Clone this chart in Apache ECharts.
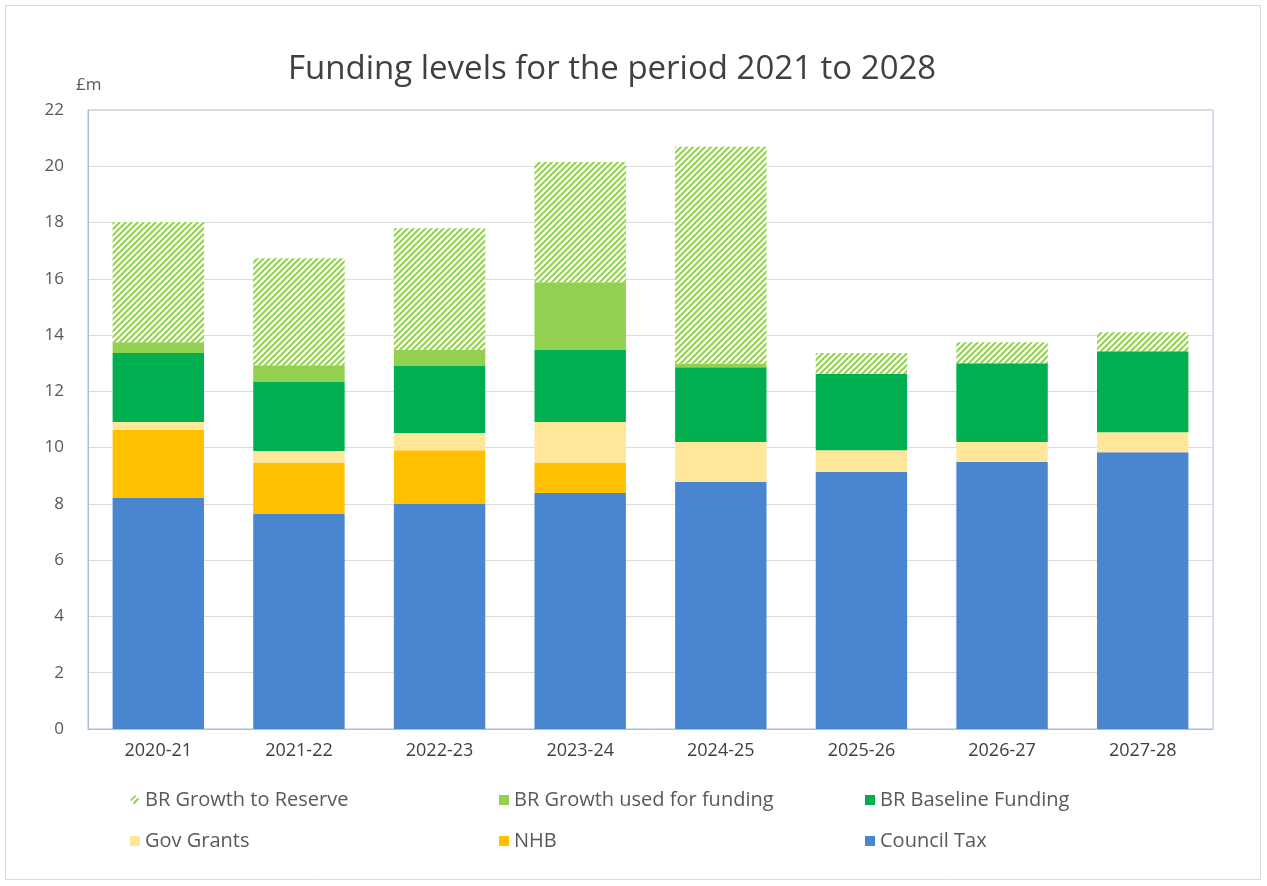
<!DOCTYPE html>
<html>
<head>
<meta charset="utf-8">
<script src="https://cdn.jsdelivr.net/npm/echarts@6/dist/echarts.min.js"></script>
<style>
html,body{margin:0;padding:0;background:#fff;}
#chart{width:1267px;height:886px;}
</style>
</head>
<body>
<div id="chart"></div>
<script>
var categories = ['2020-21','2021-22','2022-23','2023-24','2024-25','2025-26','2026-27','2027-28'];
var councilTax   = [8.21, 7.64, 8.00, 8.39, 8.78, 9.13, 9.49, 9.84];
var nhb          = [2.42, 1.81, 1.91, 1.06, 0, 0, 0, 0];
var govGrants    = [0.28, 0.43, 0.61, 1.46, 1.42, 0.78, 0.71, 0.71];
var brBaseline   = [2.45, 2.45, 2.38, 2.56, 2.66, 2.71, 2.80, 2.88];
var brGrowthUsed = [0.39, 0.60, 0.57, 2.41, 0.13, 0, 0, 0];
var brGrowthRes  = [4.27, 3.80, 4.33, 4.27, 7.70, 0.74, 0.75, 0.67];
var yTicks = [0,2,4,6,8,10,12,14,16,18,20,22];

// hatch pattern: diagonal "/" lines
var pc = document.createElement('canvas');
pc.width = 6; pc.height = 6;
var ctx = pc.getContext('2d');
ctx.fillStyle = '#ffffff';
ctx.fillRect(0,0,6,6);
ctx.strokeStyle = '#92D050';
ctx.lineWidth = 2;
[0,6,12].forEach(function(c){
  ctx.beginPath();
  ctx.moveTo(c+1, -1);
  ctx.lineTo(-1, c+1);
  ctx.stroke();
});
var hatch = {image: pc, repeat: 'repeat'};

var FONT = 'Open Sans';
var textColor = '#595959';

var chart = echarts.init(document.getElementById('chart'), null, {renderer:'canvas'});

function mkLegend(name, left, top, icon) {
  return {
    data: [{name: name, icon: icon || 'rect'}],
    left: left, top: top,
    itemWidth: 10, itemHeight: 10,
    textStyle: {fontFamily: FONT, fontSize: 20, color: textColor},
    selectedMode: false
  };
}

var barBase = {type:'bar', stack:'total', barWidth:'65%'};

chart.setOption({
  animation: false,
  backgroundColor: '#ffffff',
  title: {
    text: 'Funding levels for the period 2021 to 2028',
    left: 283, top: 48,
    textStyle: {fontFamily: FONT, fontSize: 33, fontWeight: 'normal', color: '#404040'}
  },
  graphic: [
    {type:'rect', shape:{x:5.5, y:5.5, width:1255, height:874}, style:{fill:'none', stroke:'#d9d9d9', lineWidth:1}},
    {type:'text', left:76, top:77, style:{text:'£m', font:'17px "Open Sans"', fill:textColor}}
  ],
  legend: [
    mkLegend('BR Growth to Reserve', 125, 785, 'diamond'),
    mkLegend('BR Growth used for funding', 494, 785),
    mkLegend('BR Baseline Funding', 860, 785),
    mkLegend('Gov Grants', 125, 826),
    mkLegend('NHB', 494, 826),
    mkLegend('Council Tax', 860, 826)
  ],
  grid: {left:88, right:54, top:110, bottom:157, show:true, borderColor:'#a9bde0', borderWidth:1},
  xAxis: {
    type:'category', data: categories,
    axisLine:{show:true, lineStyle:{color:'#a9bde0'}},
    axisTick:{show:false},
    axisLabel:{fontFamily:FONT, fontSize:18, color:'#404040', margin:13}
  },
  yAxis: {
    type:'value', min:0, max:22, interval:2,
    axisLine:{show:true, lineStyle:{color:'#a9bde0'}},
    axisTick:{show:false},
    splitLine:{lineStyle:{color:'#dcdcdc'}},
    axisLabel:{fontFamily:FONT, fontSize:17, color:textColor, margin:24,
      formatter:function(v){ return yTicks.indexOf(v) >= 0 ? String(v) : ''; }}
  },
  series: [
    Object.assign({}, barBase, {name:'Council Tax', data:councilTax, itemStyle:{color:'#4a86cf'}}),
    Object.assign({}, barBase, {name:'NHB', data:nhb, itemStyle:{color:'#FFC000'}}),
    Object.assign({}, barBase, {name:'Gov Grants', data:govGrants, itemStyle:{color:'#FFE699'}}),
    Object.assign({}, barBase, {name:'BR Baseline Funding', data:brBaseline, itemStyle:{color:'#00B050'}}),
    Object.assign({}, barBase, {name:'BR Growth used for funding', data:brGrowthUsed, itemStyle:{color:'#92D050'}}),
    Object.assign({}, barBase, {name:'BR Growth to Reserve', data:brGrowthRes, itemStyle:{color:hatch}})
  ]
});
</script>
</body>
</html>
